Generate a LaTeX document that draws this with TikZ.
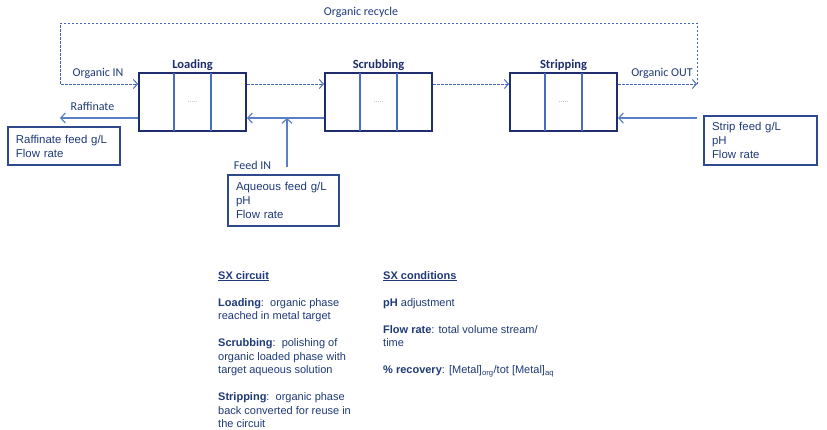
\documentclass[tikz,border=0pt]{standalone}
\usepackage{fontspec}
\setmainfont{Liberation Sans}
\newfontfamily\labelfont{Carlito}
\usetikzlibrary{arrows.meta,calc,positioning}
\definecolor{navy}{HTML}{1F2D6E}
\definecolor{cellblue}{HTML}{4A6CC0}
\definecolor{aqblue}{HTML}{5B7FC7}
\definecolor{orgblue}{HTML}{4364B8}
\definecolor{cardline}{HTML}{2F4A8C}
\definecolor{textnavy}{HTML}{1F3A78}
\definecolor{dotgray}{HTML}{8C96AA}
\tikzset{
  orgarr/.style={-{Straight Barb[length=4pt,width=9pt]},dash pattern=on 2.5pt off 1.5pt,line width=0.9pt,color=orgblue},
  aqarr/.style={-{Straight Barb[length=4.5pt,width=10pt]},line width=1.2pt,color=aqblue},
  stagebox/.style={draw=navy,line width=2pt,minimum width=107pt,minimum height=58pt,inner sep=0pt,font=\fontsize{7}{8}\selectfont,text=dotgray},
  cellline/.style={draw=cellblue,line width=1.2pt,shorten <=1pt,shorten >=1pt},
  stagetitle/.style={font=\labelfont\bfseries\fontsize{12.5}{14}\selectfont,text=navy,inner sep=1.5pt},
  flowlbl/.style={font=\labelfont\fontsize{12}{14}\selectfont,text=textnavy,inner sep=1pt},
  infocard/.style={draw=cardline,line width=1.1pt,align=left,inner xsep=8pt,inner ysep=3pt,font=\fontsize{11.4}{14}\selectfont,text=textnavy},
  notetext/.style={align=left,anchor=north west,inner sep=0pt,font=\fontsize{11}{13.5}\selectfont,text=textnavy}
}

\begin{document}
\begin{tikzpicture}[x=1pt,y=-1pt]
  \fill[white] (0,0) rectangle (827,429);
  \useasboundingbox (0,0) rectangle (827,429);
  % stages
  \foreach \nm/\cx/\ttl in {load/192.5/Loading,scrub/378.5/Scrubbing,strip/563.5/Stripping} {
    \node[stagebox] (\nm) at (\cx,102) {.....};
    \draw[cellline] ($(\nm.north west)!0.33!(\nm.north east)$) -- ($(\nm.south west)!0.33!(\nm.south east)$);
    \draw[cellline] ($(\nm.north west)!0.67!(\nm.north east)$) -- ($(\nm.south west)!0.67!(\nm.south east)$);
    \node[stagetitle,above=0pt of \nm] (\nm title) {\ttl};
  }
  % feed cards
  \node[infocard,text width=96pt,minimum height=38pt] (raffcard) at (64,146) {Raffinate feed g/L\\Flow rate};
  \node[infocard,text width=95pt,minimum height=51pt] (feedcard) at (283.5,200.5) {Aqueous feed g/L\\pH\\Flow rate};
  \node[infocard,text width=97pt,minimum height=49pt] (stripcard) at (760.5,140.5) {Strip feed g/L\\pH\\Flow rate};
  % helper points
  \coordinate (orgy) at (0,84);
  \coordinate (aqy) at (0,118);
  \coordinate (outend) at (697,84);
  \coordinate (recyc) at (60,23);
  \coordinate (rafend) at (60,118);
  \coordinate (stripin) at (outend |- aqy);
  \coordinate (feedtop) at ([xshift=3.5pt,yshift=7pt]feedcard.north);
  % organic stream
  \draw[orgarr] (load.east |- orgy) -- (scrub.west |- orgy);
  \draw[orgarr] (scrub.east |- orgy) -- (strip.west |- orgy);
  \draw[orgarr] (strip.east |- orgy) -- (outend);
  \draw[orgarr] (outend) |- (recyc) |- (load.west |- orgy);
  % aqueous stream
  \draw[aqarr] (scrub.west |- aqy) -- (load.east |- aqy);
  \draw[aqarr] (load.west |- aqy) -- (rafend);
  \draw[aqarr] (feedtop) -- (feedtop |- aqy);
  \draw[aqarr] (stripin) -- (strip.east |- aqy);
  % labels
  \node[flowlbl] (reclbl) at (361,12) {Organic recycle};
  \node[flowlbl] (inlbl) at (98,73) {Organic IN};
  \node[flowlbl] (outlbl) at (662,73) {Organic OUT};
  \node[flowlbl] (raflbl) at (92.5,106) {Raffinate};
  \node[flowlbl] (feedlbl) at (252.5,165) {Feed IN};
  % notes
  \node[notetext] (circnote) at (218,271) {\underline{\textbf{SX circuit}}\\[13.5pt]
    \textbf{Loading}:\ \ organic phase\\reached in metal target\\[13.5pt]
    \textbf{Scrubbing}:\ \ polishing of\\organic loaded phase with\\target aqueous solution\\[13.5pt]
    \textbf{Stripping}:\ \ organic phase\\back converted for reuse in\\the circuit};
  \node[notetext] (condnote) at (383,271) {\underline{\textbf{SX conditions}}\\[13.5pt]
    \textbf{pH} adjustment\\[13.5pt]
    \textbf{Flow rate}: total volume stream/\\time\\[13.5pt]
    \textbf{\% recovery}: [Metal]\textsubscript{org}/tot [Metal]\textsubscript{aq}};
\end{tikzpicture}
\end{document}
